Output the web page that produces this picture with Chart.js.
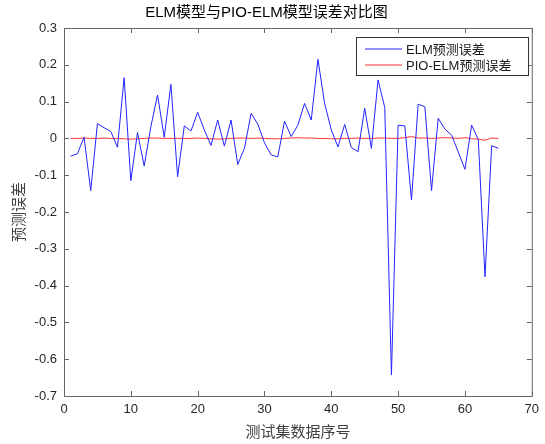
<!DOCTYPE html>
<html>
<head>
<meta charset="utf-8">
<title>ELM模型与PIO-ELM模型误差对比图</title>
<script src="https://cdn.jsdelivr.net/npm/chart.js@4"></script>
<style>
  body { margin: 0; background: #fff; }
  canvas { display: block; }
</style>
</head>
<body>
<canvas id="chart" width="545" height="444"></canvas>
<script>
const sampleIndex = [
  1, 2, 3, 4, 5, 6, 7, 8, 9, 10, 11, 12, 13, 14, 15, 16, 17, 18, 19, 20,
  21, 22, 23, 24, 25, 26, 27, 28, 29, 30, 31, 32, 33, 34, 35, 36, 37, 38, 39, 40,
  41, 42, 43, 44, 45, 46, 47, 48, 49, 50, 51, 52, 53, 54, 55, 56, 57, 58, 59, 60,
  61, 62, 63, 64, 65,
];

const elmError = [
  -0.048, -0.042, 0.003, -0.142, 0.040, 0.029, 0.019, -0.024, 0.165, -0.115,
  0.016, -0.075, 0.032, 0.118, 0.003, 0.147, -0.104, 0.034, 0.020, 0.071,
  0.023, -0.019, 0.050, -0.021, 0.050, -0.071, -0.027, 0.068, 0.039, -0.012,
  -0.045, -0.050, 0.047, 0.005, 0.036, 0.095, 0.050, 0.215, 0.095, 0.023,
  -0.023, 0.038, -0.025, -0.036, 0.082, -0.027, 0.159, 0.084, -0.643, 0.036,
  0.034, -0.167, 0.093, 0.086, -0.142, 0.055, 0.025, 0.009, -0.037, -0.084,
  0.036, -0.003, -0.376, -0.020, -0.027,
];

const pioElmError = [
  0.000, 0.000, 0.001, 0.000, 0.000, 0.001, 0.000, 0.000, -0.001, -0.002,
  -0.001, 0.000, 0.001, 0.001, 0.000, 0.000, 0.000, 0.000, 0.000, 0.001,
  0.000, -0.001, -0.002, -0.001, 0.000, 0.001, 0.001, 0.000, 0.001, 0.000,
  -0.001, -0.001, 0.000, 0.001, 0.002, 0.001, 0.001, 0.000, 0.000, -0.001,
  -0.001, 0.000, 0.000, 0.001, 0.000, 0.000, 0.001, 0.001, 0.000, 0.000,
  0.002, 0.005, 0.001, 0.001, 0.000, 0.001, 0.002, 0.001, 0.000, 0.002,
  -0.001, -0.002, -0.005, 0.001, 0.000,
];

const seriesNames = ['ELM预测误差', 'PIO-ELM预测误差'];
const xTicks = [0, 10, 20, 30, 40, 50, 60, 70];
const yTicks = [0.3, 0.2, 0.1, 0, -0.1, -0.2, -0.3, -0.4, -0.5, -0.6, -0.7];

const FONT = "'Liberation Sans', 'Noto Sans CJK SC', Arial, sans-serif";
const AXIS_COLOR = '#666';
const LINE_COLORS = ['#2323ff', '#ff3030'];

// matlab style box with inward ticks on all four sides, plus the legend
const matlabBox = {
  id: 'matlabBox',
  afterDatasetsDraw(chart) {
    const { ctx, chartArea: a, scales } = chart;
    ctx.save();
    ctx.strokeStyle = AXIS_COLOR;
    ctx.lineWidth = 1;
    ctx.strokeRect(a.left + 0.5, a.top + 0.5, a.right - a.left, a.bottom - a.top);
    ctx.beginPath();
    xTicks.forEach((v) => {
      const px = Math.round(scales.x.getPixelForValue(v)) + 0.5;
      ctx.moveTo(px, a.bottom); ctx.lineTo(px, a.bottom - 5);
      ctx.moveTo(px, a.top); ctx.lineTo(px, a.top + 5);
    });
    yTicks.forEach((v) => {
      const py = Math.round(scales.y.getPixelForValue(v)) + 0.5;
      ctx.moveTo(a.left, py); ctx.lineTo(a.left + 5, py);
      ctx.moveTo(a.right, py); ctx.lineTo(a.right - 5, py);
    });
    ctx.stroke();

    // legend
    const lx = 356, ly = 37, lw = 172, lh = 38;
    ctx.fillStyle = '#fff';
    ctx.fillRect(lx, ly, lw, lh);
    ctx.strokeStyle = '#333';
    ctx.strokeRect(lx + 0.5, ly + 0.5, lw, lh);
    ctx.font = '13px ' + FONT;
    ctx.textBaseline = 'middle';
    seriesNames.forEach((name, i) => {
      const y = ly + 12 + i * 16;
      ctx.strokeStyle = LINE_COLORS[i];
      ctx.beginPath();
      ctx.moveTo(lx + 9, y);
      ctx.lineTo(lx + 46, y);
      ctx.stroke();
      ctx.fillStyle = '#1a1a1a';
      ctx.fillText(name, lx + 50, y + 1);
    });
    ctx.restore();
  },
};

new Chart(document.getElementById('chart'), {
  type: 'line',
  data: {
    datasets: [{
      label: seriesNames[0],
      data: sampleIndex.map((x, i) => ({ x, y: elmError[i] })),
      borderColor: LINE_COLORS[0],
      borderWidth: 1,
      pointRadius: 0,
      tension: 0,
    }, {
      label: seriesNames[1],
      data: sampleIndex.map((x, i) => ({ x, y: pioElmError[i] })),
      borderColor: LINE_COLORS[1],
      borderWidth: 1,
      pointRadius: 0,
      tension: 0,
    }],
  },
  options: {
    responsive: false,
    animation: false,
    layout: { padding: { left: 0, right: 12, top: 0, bottom: 0 } },
    plugins: {
      legend: { display: false },
      tooltip: { enabled: false },
      title: {
        display: true,
        text: 'ELM模型与PIO-ELM模型误差对比图',
        color: '#000',
        font: { family: FONT, size: 15, weight: 'normal', lineHeight: 1.2 },
        padding: { top: 4, bottom: 6 },
      },
    },
    scales: {
      x: {
        type: 'linear',
        min: 0,
        max: 70,
        afterFit(scale) { scale.height = 48; },
        afterBuildTicks(scale) { scale.ticks = xTicks.map((v) => ({ value: v })); },
        grid: { display: false, drawTicks: false },
        border: { display: false },
        ticks: {
          color: '#262626',
          padding: 6,
          maxRotation: 0,
          autoSkip: false,
          font: { family: FONT, size: 13 },
        },
        title: {
          display: true,
          text: '测试集数据序号',
          color: '#404040',
          font: { family: FONT, size: 15, lineHeight: 1.2 },
          padding: { top: 0, bottom: 2 },
        },
      },
      y: {
        min: -0.7,
        max: 0.3,
        afterFit(scale) { scale.width = 64; },
        afterBuildTicks(scale) { scale.ticks = yTicks.map((v) => ({ value: v })); },
        grid: { display: false, drawTicks: false },
        border: { display: false },
        ticks: {
          color: '#262626',
          padding: 7,
          autoSkip: false,
          font: { family: FONT, size: 13 },
          callback: (v) => Number(v.toFixed(1)).toString(),
        },
        title: {
          display: true,
          text: '预测误差',
          color: '#404040',
          font: { family: FONT, size: 15, lineHeight: 1.2 },
          padding: { top: 11, bottom: 0 },
        },
      },
    },
  },
  plugins: [matlabBox],
});
</script>
</body>
</html>
